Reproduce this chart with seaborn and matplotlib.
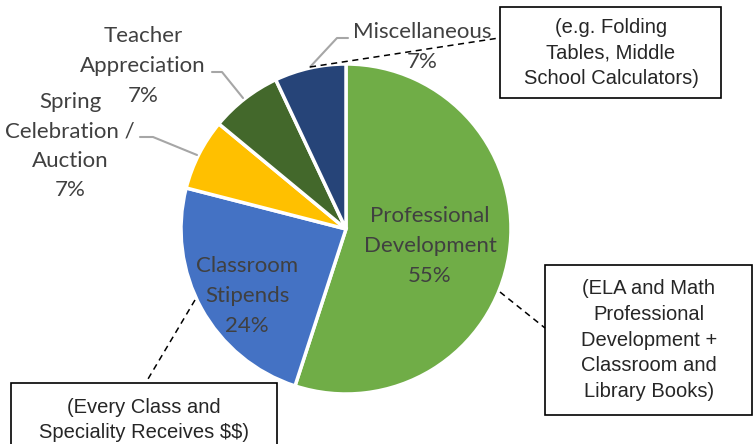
import numpy as np
import matplotlib.pyplot as plt
import seaborn as sns
from matplotlib.patches import Rectangle

# -------------------------------------------------------
# Dane
# -------------------------------------------------------
categories = ['Professional\nDevelopment', 'Classroom\nStipends', 'Spring\nCelebration /\nAuction',
              'Teacher\nAppreciation', 'Miscellaneous']
shares = [55, 24, 7, 7, 7]
colors = ['#70AD47', '#4472C4', '#FFC000', '#43682B', '#264478']
notes = ['(ELA and Math\nProfessional\nDevelopment +\nClassroom and\nLibrary Books)',
         '(Every Class and\nSpeciality Receives $$)',
         '(e.g. Folding\nTables, Middle\nSchool Calculators)']

W, H = 756, 444
sns.set_theme(style='white')

fig = plt.figure(figsize=(W / 100, H / 100), dpi=100)
ax = fig.add_axes([0, 0, 1, 1])


def Y(y):
    # piksele od góry -> współrzędne osi
    return H - y


cx, cy, r = 346, 229, 165
ax.pie(shares, colors=colors, startangle=90, counterclock=False, center=(cx, Y(cy)), radius=r,
       wedgeprops=dict(edgecolor='white', linewidth=2.5), frame=True)
ax.set_xlim(0, W)
ax.set_ylim(0, H)
ax.set_aspect('equal')
ax.axis('off')

lab_font = dict(family='Lato', fontsize=16, color='#404040', ha='center', va='center', linespacing=1.6)
label_pos = [(430, 246), (247, 296), (70, 146), (143, 66), (422, 47)]
for cat, val, (x, y) in zip(categories, shares, label_pos):
    ax.text(x, Y(y), cat + f'\n{val}%', **lab_font, zorder=5)

# linie prowadzące (szare)
gray = '#A6A6A6'
ax.plot([212, 222, 243], [Y(72), Y(72), Y(98)], color=gray, lw=1.5)
ax.plot([140, 153, 197], [Y(137), Y(137), Y(155)], color=gray, lw=1.5)
ax.plot([310, 337, 348], [Y(67), Y(38), Y(38)], color=gray, lw=1.5)

# ramki z opisami
box_font = dict(family='Liberation Sans', fontsize=14.5, color='#262626', ha='center', va='center',
                linespacing=1.45, parse_math=False)
boxes = [(545, 265, 752, 415), (11, 383, 277, 460), (500, 7, 721, 98)]
text_pos = [(649, 340), (144, 420), (611, 53)]
for note, (x0, y0, x1, y1), (tx, ty) in zip(notes, boxes, text_pos):
    ax.add_patch(Rectangle((x0, Y(y1)), x1 - x0, y1 - y0, fill=False, edgecolor='black', lw=1.2,
                           clip_on=False, zorder=4))
    ax.text(tx, Y(ty), note, **box_font, zorder=5)

# przerywane linie do ramek
ax.plot([500, 545], [Y(292), Y(328)], color='black', lw=1.1, ls=(0, (4, 3)))
ax.plot([195, 148], [Y(300), Y(379)], color='black', lw=1.1, ls=(0, (4, 3)))
ax.plot([310, 499], [Y(67), Y(38)], color='black', lw=1.1, ls=(0, (4, 3)), zorder=6)

fig.savefig('out.png', dpi=100)
plt.close()
